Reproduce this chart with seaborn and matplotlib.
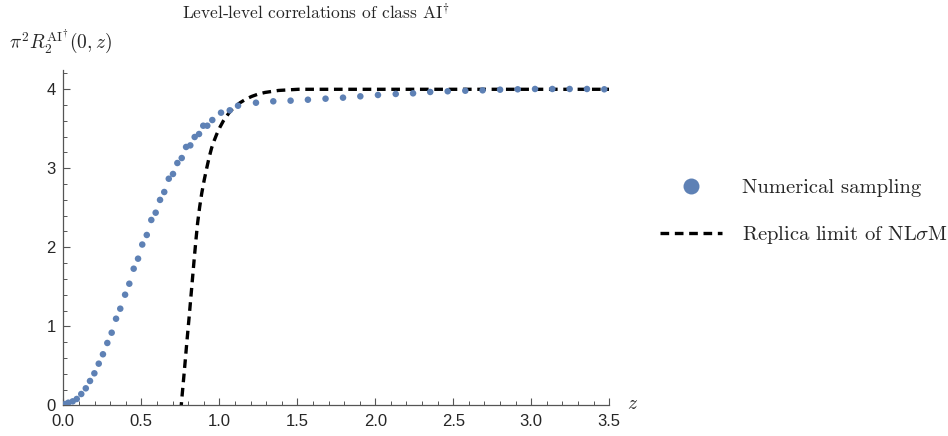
import matplotlib
matplotlib.use('Agg')
import matplotlib.pyplot as plt
from matplotlib.lines import Line2D
import seaborn as sns

# numerical sampling points
sample_z = [0.011, 0.032, 0.060, 0.086, 0.115, 0.144, 0.171, 0.199, 0.227,
            0.254, 0.282, 0.310, 0.338, 0.365, 0.396, 0.423, 0.451, 0.479,
            0.506, 0.535, 0.564, 0.592, 0.620, 0.647, 0.676, 0.703, 0.731,
            0.759, 0.787, 0.814, 0.842, 0.870, 0.897, 0.923, 0.955, 1.011,
            1.067, 1.120, 1.235, 1.346, 1.457, 1.568, 1.681, 1.793, 1.904,
            2.017, 2.131, 2.242, 2.352, 2.464, 2.577, 2.688, 2.800, 2.913,
            3.024, 3.135, 3.246, 3.357, 3.468]
sample_r = [0.016, 0.033, 0.050, 0.080, 0.143, 0.215, 0.308, 0.405, 0.527,
            0.646, 0.789, 0.919, 1.096, 1.223, 1.400, 1.539, 1.729, 1.856,
            2.035, 2.156, 2.346, 2.438, 2.600, 2.700, 2.868, 2.928, 3.067,
            3.130, 3.270, 3.290, 3.396, 3.434, 3.539, 3.539, 3.611, 3.704,
            3.734, 3.792, 3.830, 3.848, 3.856, 3.868, 3.881, 3.894, 3.911,
            3.928, 3.941, 3.949, 3.966, 3.975, 3.982, 3.987, 3.995, 4.000,
            4.004, 4.004, 4.004, 4.004, 4.000]

# replica limit curve
replica_z = [0.745, 0.759, 0.776, 0.791, 0.808, 0.823, 0.838, 0.850, 0.861,
             0.874, 0.887, 0.903, 0.919, 0.935, 0.951, 0.967, 0.983, 1.004,
             1.026, 1.047, 1.069, 1.100, 1.133, 1.170, 1.208, 1.250, 1.293,
             1.378, 1.506, 1.700, 2.000, 2.500, 3.000, 3.500]
replica_r = [-0.25, 0.07, 0.44, 0.78, 1.15, 1.49, 1.83, 2.09, 2.31, 2.51,
             2.68, 2.85, 3.00, 3.14, 3.26, 3.35, 3.43, 3.52, 3.60, 3.66,
             3.72, 3.78, 3.83, 3.875, 3.91, 3.94, 3.96, 3.985, 4.0, 4.0,
             4.0, 4.0, 4.0, 4.0]

title = r'Level-level correlations of class AI$^{\dagger}$'
ylabel = r'$\pi^2 R_2^{\mathrm{AI}^{\dagger}}(0,z)$'
legend_labels = ['Numerical sampling', r'Replica limit of NL$\sigma$M']

dot_color = '#5E81B5'
axis_color = '#555555'

sns.set_style('ticks')
plt.rcParams['font.family'] = ['Liberation Sans', 'DejaVu Sans']
plt.rcParams['mathtext.fontset'] = 'cm'

fig = plt.figure(figsize=(9.48, 4.36), dpi=100)
ax = fig.add_axes([0.0668, 0.0704, 0.5759, 0.7701])

sns.lineplot(x=replica_z, y=replica_r, ax=ax, color='black', linewidth=2.4,
             linestyle=(0, (2.6, 1.7)), sort=False)
sns.scatterplot(x=sample_z, y=sample_r, ax=ax, color=dot_color, s=22,
                edgecolor='none', zorder=3)

ax.set_xlim(0, 3.5)
ax.set_ylim(0, 4.25)
ax.set_xticks([0, 0.5, 1.0, 1.5, 2.0, 2.5, 3.0, 3.5])
ax.set_xticklabels(['0.0', '0.5', '1.0', '1.5', '2.0', '2.5', '3.0', '3.5'])
ax.set_xticks([i / 10 for i in range(36)], minor=True)
ax.set_yticks([0, 1, 2, 3, 4])
ax.set_yticks([i / 5 for i in range(22)], minor=True)
ax.tick_params(which='major', direction='in', length=5, width=0.8,
               color=axis_color, labelsize=12)
ax.tick_params(axis='x', which='major', pad=6)
ax.tick_params(axis='y', which='major', pad=5.5)
ax.tick_params(which='minor', direction='in', length=3, width=0.7,
               color=axis_color)
for side in ['top', 'right']:
    ax.spines[side].set_visible(False)
for side in ['left', 'bottom']:
    ax.spines[side].set_color(axis_color)
    ax.spines[side].set_linewidth(0.9)
ax.set_xlabel('')
ax.set_ylabel('')

fig.text(315.5 / 948, 1 - 12 / 436, title, ha='center', va='center',
         fontsize=12.5, family='cmr10')
fig.text(9 / 948, 1 - 42 / 436, ylabel, ha='left', va='center', fontsize=14)
fig.text(627 / 948, 1 - 404 / 436, r'$z$', ha='left', va='center',
         fontsize=14)

handles = [
    Line2D([], [], color=dot_color, marker='o', linestyle='none',
           markersize=11.5, markeredgewidth=0),
    Line2D([], [], color='black', linewidth=2.4, linestyle=(0, (2.6, 1.7))),
]
leg = fig.legend(handles, legend_labels, loc='center left',
                 bbox_to_anchor=(641.5 / 948, 1 - 212.5 / 436), frameon=False,
                 handlelength=3.0, handletextpad=0.97, labelspacing=1.32,
                 prop={'family': 'cmr10', 'size': 14.8})

fig.savefig('out.png', dpi=100)
